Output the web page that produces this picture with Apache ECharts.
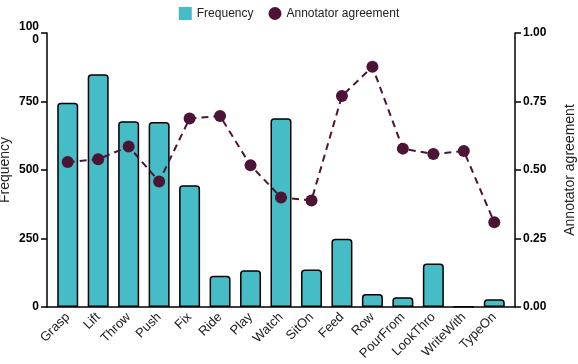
<!DOCTYPE html>
<html><head><meta charset="utf-8">
<script src="https://cdn.jsdelivr.net/npm/echarts@6/dist/echarts.min.js"></script>
<style>html,body{margin:0;padding:0;background:#fff}#c{width:578px;height:364px}</style>
</head><body><div id="c"></div>
<script>
const categories = ['Grasp','Lift','Throw','Push','Fix','Ride','Play','Watch','SitOn','Feed','Row','PourFrom','LookThro','WriteWith','TypeOn'];
const frequency = [745, 849, 678, 675, 444, 114, 134, 689, 137, 249, 47, 36, 159, 2, 28];
const agreement = [0.529, 0.539, 0.586, 0.458, 0.688, 0.697, 0.517, 0.400, 0.389, 0.770, 0.877, 0.578, 0.558, 0.569, 0.309];
const leftTicks = [0, 250, 500, 750, 1000];
const rightTicks = [0, 0.25, 0.5, 0.75, 1.0];

const idx = categories.map((c, i) => i);
const chart = echarts.init(document.getElementById('c'), null, {renderer:'canvas'});
const font = "'Liberation Sans', Arial, sans-serif";
chart.setOption({
  animation: false,
  legend: {
    top: 2, left: 'center', itemGap: 15, itemWidth: 13, itemHeight: 13,
    textStyle: {fontFamily: font, fontSize: 12, color: '#222'},
    data: [
      {name:'Frequency', icon:'rect', itemStyle: {borderWidth: 0}},
      {name:'Annotator agreement', icon:'circle'}
    ]
  },
  grid: {left: 47, right: 63, top: 33, bottom: 57, containLabel: false, outerBoundsMode: 'none'},
  xAxis: {
    type: 'value', min: -0.68, max: categories.length - 0.32,
    axisLine: {show: true, onZero: false, lineStyle: {color: '#000', width: 1.5}},
    axisTick: {show: false},
    splitLine: {show: false},
    axisLabel: {
      customValues: idx, showMinLabel: true, showMaxLabel: true,
      formatter: v => categories[Math.round(v)] || '',
      rotate: 45, fontFamily: font, fontSize: 13, color: '#222', margin: 8
    }
  },
  yAxis: [{
    type: 'value', min: leftTicks[0], max: leftTicks[leftTicks.length-1], interval: 250,
    name: 'Frequency', nameLocation: 'middle', nameGap: 35, nameRotate: 90, nameMoveOverlap: false,
    nameTextStyle: {fontFamily: font, fontSize: 14, color: '#222'},
    axisLine: {show: true, onZero: false, lineStyle: {color: '#000', width: 1.5}},
    axisTick: {show: true, length: 6, lineStyle: {color: '#000', width: 1.5}},
    splitLine: {show: false},
    axisLabel: {fontFamily: font, fontSize: 12, fontWeight: 'bold', color: '#000', margin: 8,
      formatter: v => String(v),
      width: 24, overflow: 'breakAll', lineHeight: 13, align: 'right', padding: [3, 0, 0, 0]}
  },{
    type: 'value', min: rightTicks[0], max: rightTicks[rightTicks.length-1], interval: 0.25,
    position: 'right',
    name: 'Annotator agreement', nameLocation: 'middle', nameGap: 48, nameRotate: 90,
    nameTextStyle: {fontFamily: font, fontSize: 14, color: '#222'},
    axisLine: {show: true, onZero: false, lineStyle: {color: '#000', width: 1.5}},
    axisTick: {show: true, length: 6, lineStyle: {color: '#000', width: 1.5}},
    splitLine: {show: false},
    axisLabel: {fontFamily: font, fontSize: 12, fontWeight: 'bold', color: '#000', margin: 8,
      formatter: v => v.toFixed(2)}
  }],
  series: [{
    name: 'Frequency', type: 'bar', data: idx.map(i => [i, frequency[i]]), yAxisIndex: 0,
    barWidth: 21,
    itemStyle: {color: '#45BCC6', borderColor: '#000', borderWidth: 1.5, borderRadius: [3,3,0,0]}
  },{
    name: 'Annotator agreement', type: 'line', data: idx.map(i => [i, agreement[i]]), yAxisIndex: 1,
    symbol: 'circle', symbolSize: 12,
    itemStyle: {color: '#4D1535'},
    lineStyle: {color: '#4D1535', width: 2, type: [7, 5]}
  }]
});
</script></body></html>
